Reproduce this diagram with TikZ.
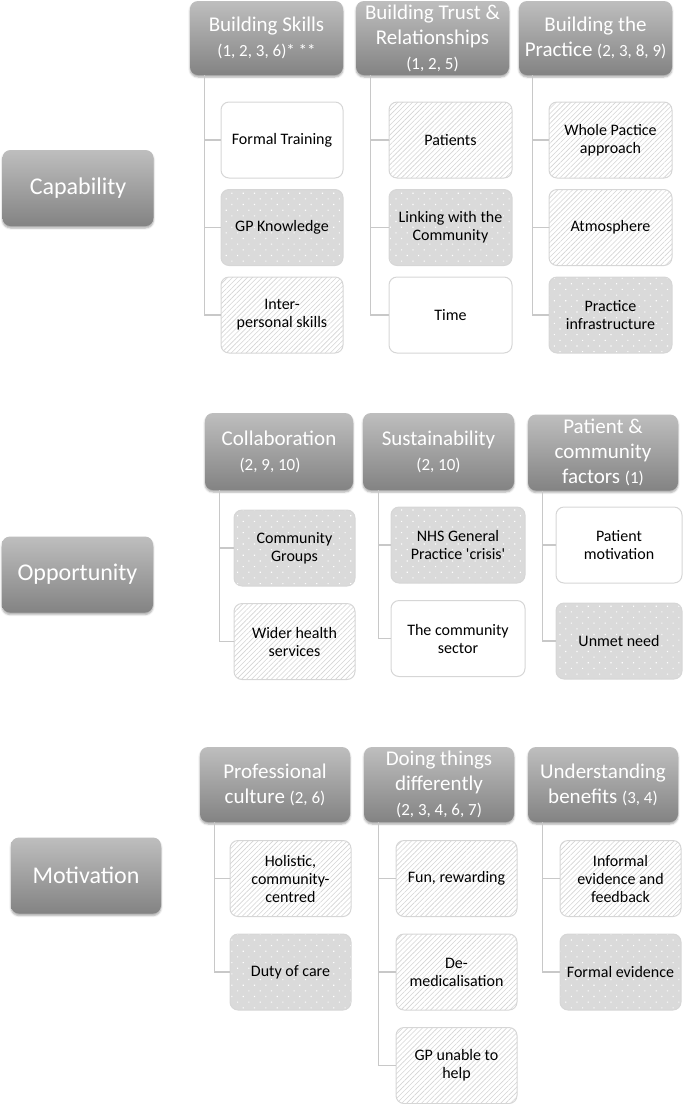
\documentclass[tikz,border=0pt]{standalone}
\usepackage{fontspec}
\setmainfont{Carlito}
\usetikzlibrary{patterns.meta,shadows.blur}

\definecolor{boxtop}{HTML}{BEBEBE}
\definecolor{boxbottom}{HTML}{838383}
\definecolor{rimgray}{HTML}{D6D6D6}
\definecolor{dotgray}{HTML}{DADADA}
\definecolor{hatchgray}{HTML}{D4D4D4}
\definecolor{linkgray}{HTML}{C8C8C8}

\newcommand{\refs}[1]{{\fontsize{17}{19}\selectfont #1}}

\begin{document}
\begin{tikzpicture}[x=1pt,y=-1pt,
  catbox/.style={rounded corners=8pt,top color=boxtop,bottom color=boxbottom,
    draw=none,text=white,minimum width=151pt,minimum height=76pt,
    font=\fontsize{24}{28}\selectfont,
    blur shadow={shadow xshift=0pt,shadow yshift=-2pt,shadow blur steps=4,shadow opacity=35}},
  headbox/.style={catbox,minimum width=150pt,minimum height=75pt,inner sep=1pt,
    align=center,font=\fontsize{21}{25}\selectfont},
  childbox/.style={rounded corners=8pt,draw=rimgray,line width=1pt,fill=white,
    minimum width=121pt,minimum height=76pt,inner sep=1pt,align=center,
    font=\fontsize{16}{18}\selectfont},
  plainbox/.style={childbox},
  dotbox/.style={childbox,preaction={fill=dotgray},
    pattern={Dots[distance=8pt,angle=45,radius=0.8pt]},pattern color=white},
  hatchbox/.style={childbox,
    pattern={Lines[angle=45,distance=3.5pt,line width=0.6pt]},pattern color=hatchgray},
  link/.style={draw=linkgray,line width=1.2pt}]
\useasboundingbox (0,0) rectangle (685,1104);

% Capability
\node[catbox] (cap) at (78,188) {Capability};
\node[headbox,minimum width=153pt,minimum height=74pt] (skills) at (266.5,38) {Building Skills\\\refs{(1, 2, 3, 6)* **}};
\node[headbox,minimum width=153pt,minimum height=74pt] (trust) at (432.5,38) {Building Trust \&\\Relationships\\\refs{(1, 2, 5)}};
\node[headbox,minimum width=153pt,minimum height=74pt] (practice) at (595.5,38) {Building the\\Practice \refs{(2, 3, 8, 9)}};

\node[plainbox,minimum width=122pt] (training) at (282,140) {Formal Training};
\node[dotbox,minimum width=122pt] (gpknow) at (282,227.5) {GP Knowledge};
\node[hatchbox,minimum width=122pt] (inter) at (282,315) {Inter-\\personal skills};
\node[hatchbox,minimum width=123pt] (patients) at (450.5,140) {Patients};
\node[dotbox,minimum width=123pt] (linking) at (450.5,227.5) {Linking with the\\Community};
\node[plainbox,minimum width=123pt] (time) at (450.5,315) {Time};
\node[hatchbox,minimum width=123pt] (whole) at (610.5,140) {Whole Pactice\\approach};
\node[hatchbox,minimum width=123pt] (atmos) at (610.5,227.5) {Atmosphere};
\node[dotbox,minimum width=123pt] (infra) at (610.5,315) {Practice\\infrastructure};

\foreach \c in {training,gpknow,inter}
  \draw[link] ([xshift=15pt]skills.south west) |- (\c.west);
\foreach \c in {patients,linking,time}
  \draw[link] ([xshift=15pt]trust.south west) |- (\c.west);
\foreach \c in {whole,atmos,infra}
  \draw[link] ([xshift=14pt]practice.south west) |- (\c.west);

% Opportunity
\node[catbox] (opp) at (77.5,574.5) {Opportunity};
\node[headbox,minimum width=148pt,minimum height=77pt] (collab) at (279,451.5) {Collaboration\\\refs{(2, 9, 10)}\hspace*{18pt}};
\node[headbox,minimum width=151pt,minimum height=77pt] (sustain) at (438.5,451.5) {Sustainability\\\refs{(2, 10)}};
\node[headbox,minimum width=150pt,minimum height=76pt] (factors) at (603,452.5) {Patient \&\\community\\factors \refs{(1)}};

\node[dotbox] (groups) at (294.5,548) {Community\\Groups};
\node[hatchbox] (wider) at (294.5,641.5) {Wider health\\services};
\node[dotbox,minimum width=134pt] (crisis) at (458,545) {NHS General\\Practice \textquotesingle crisis\textquotesingle};
\node[plainbox,minimum width=134pt] (sector) at (458,638.5) {The community\\sector};
\node[plainbox,minimum width=126pt] (motiv) at (619,545) {Patient\\motivation};
\node[dotbox,minimum width=126pt] (unmet) at (619,641) {Unmet need};

\foreach \c in {groups,wider}
  \draw[link] ([xshift=15pt]collab.south west) |- (\c.west);
\foreach \c in {crisis,sector}
  \draw[link] ([xshift=16pt]sustain.south west) |- (\c.west);
\foreach \c in {motiv,unmet}
  \draw[link] ([xshift=15pt]factors.south west) |- (\c.west);

% Motivation
\node[catbox,minimum width=150pt] (mot) at (86,875.5) {Motivation};
\node[headbox] (culture) at (275,784.5) {Professional\\culture \refs{(2, 6)}};
\node[headbox] (differ) at (439,784.5) {Doing things\\differently\\\refs{(2, 3, 4, 6, 7)}};
\node[headbox] (benefit) at (603,784.5) {Understanding\\benefits \refs{(3, 4)}};

\node[hatchbox] (holistic) at (290.5,878.5) {Holistic,\\community-\\centred};
\node[dotbox] (duty) at (290.5,972) {Duty of care};
\node[hatchbox] (fun) at (456.5,878.5) {Fun, rewarding};
\node[hatchbox] (demed) at (456.5,972) {De-\\medicalisation};
\node[hatchbox] (unable) at (456.5,1065.5) {GP unable to\\help};
\node[hatchbox] (informal) at (620.5,878.5) {Informal\\evidence and\\feedback};
\node[dotbox] (formal) at (620.5,972) {Formal evidence};

\foreach \c in {holistic,duty}
  \draw[link] ([xshift=15pt]culture.south west) |- (\c.west);
\foreach \c in {fun,demed,unable}
  \draw[link] ([xshift=15pt]differ.south west) |- (\c.west);
\foreach \c in {informal,formal}
  \draw[link] ([xshift=15pt]benefit.south west) |- (\c.west);
\end{tikzpicture}
\end{document}
